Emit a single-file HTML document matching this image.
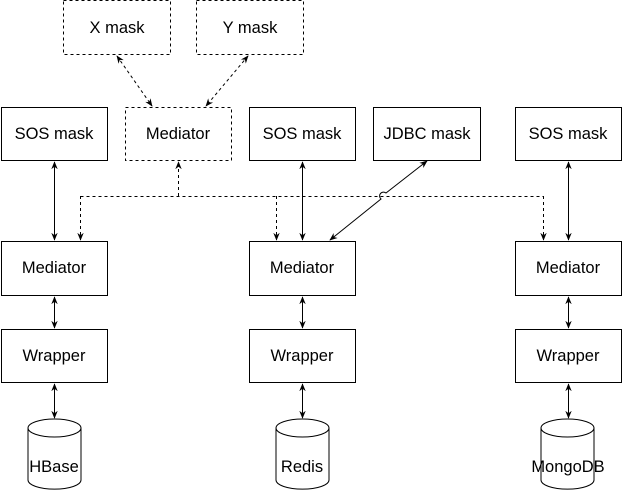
<!DOCTYPE html>
<html><head><style>body{margin:0;background:#fff}svg{display:block}text{font-family:"Liberation Sans",Arial,sans-serif;font-size:16.5px;fill:#000;text-anchor:middle;dominant-baseline:central}</style></head>
<body>
<svg width="623" height="491" viewBox="0 0 623 491" xmlns="http://www.w3.org/2000/svg">
<defs>
<marker id="a" viewBox="0 0 10 10" refX="9" refY="5" markerWidth="8" markerHeight="8" orient="auto-start-reverse"><path d="M0,1 L10,5 L0,9 L3,5 Z" fill="#000"/></marker>
</defs>
<g fill="#fff" stroke="#000" stroke-width="1">
<rect x="63.5" y="0.5" width="107" height="54" stroke-dasharray="3,3"/>
<rect x="196.5" y="0.5" width="107" height="54" stroke-dasharray="3,3"/>
<rect x="1.5" y="107.5" width="106" height="53"/>
<rect x="125.5" y="107.5" width="106" height="53" stroke-dasharray="3,3"/>
<rect x="249.5" y="107.5" width="106" height="53"/>
<rect x="373.5" y="107.5" width="107" height="53"/>
<rect x="515.5" y="107.5" width="106" height="53"/>
<rect x="1.5" y="241.5" width="106" height="54"/>
<rect x="249.5" y="241.5" width="106" height="54"/>
<rect x="515.5" y="241.5" width="106" height="54"/>
<rect x="1.5" y="329.5" width="106" height="53"/>
<rect x="249.5" y="329.5" width="106" height="53"/>
<rect x="515.5" y="329.5" width="106" height="53"/>
</g>
<g fill="#fff" stroke="#000">
<path d="M28,428 v52 a26,9 0 0 0 53,0 v-52"/><ellipse cx="54.5" cy="428" rx="26.5" ry="9"/>
<path d="M276,428 v52 a26,9 0 0 0 53,0 v-52"/><ellipse cx="302.5" cy="428" rx="26.5" ry="9"/>
<path d="M541,428 v52 a26,9 0 0 0 53,0 v-52"/><ellipse cx="567.5" cy="428" rx="26.5" ry="9"/>
</g>
<g stroke="#000" fill="none" stroke-width="1">
<g stroke-dasharray="3,3">
<line x1="117" y1="56" x2="152" y2="106" marker-start="url(#a)" marker-end="url(#a)"/>
<line x1="248" y1="56" x2="206" y2="106" marker-start="url(#a)" marker-end="url(#a)"/>
<path d="M178.5,196 V162" marker-end="url(#a)"/>
<path d="M80.5,196.5 H543.5"/>
<path d="M80.5,196 V240" marker-end="url(#a)"/>
<path d="M276.5,196 V240" marker-end="url(#a)"/>
<path d="M543.5,196 V240" marker-end="url(#a)"/>
</g>
<line x1="54.5" y1="162" x2="54.5" y2="240" marker-start="url(#a)" marker-end="url(#a)"/>
<line x1="302.5" y1="162" x2="302.5" y2="240" marker-start="url(#a)" marker-end="url(#a)"/>
<line x1="568.5" y1="162" x2="568.5" y2="240" marker-start="url(#a)" marker-end="url(#a)"/>
<path d="M427,161 L386,193 A3,3 0 0 0 381,199 L330,240" marker-start="url(#a)" marker-end="url(#a)"/>
<line x1="54.5" y1="297" x2="54.5" y2="328" marker-start="url(#a)" marker-end="url(#a)"/>
<line x1="302.5" y1="297" x2="302.5" y2="328" marker-start="url(#a)" marker-end="url(#a)"/>
<line x1="568.5" y1="297" x2="568.5" y2="328" marker-start="url(#a)" marker-end="url(#a)"/>
<line x1="54.5" y1="384" x2="54.5" y2="418" marker-start="url(#a)" marker-end="url(#a)"/>
<line x1="302.5" y1="384" x2="302.5" y2="418" marker-start="url(#a)" marker-end="url(#a)"/>
<line x1="568.5" y1="384" x2="568.5" y2="418" marker-start="url(#a)" marker-end="url(#a)"/>
</g>
<text x="117" y="28">X mask</text>
<text x="250" y="28">Y mask</text>
<text x="54" y="134">SOS mask</text>
<text x="178" y="134">Mediator</text>
<text x="302" y="134">SOS mask</text>
<text x="427" y="134">JDBC mask</text>
<text x="568" y="134">SOS mask</text>
<text x="54" y="268">Mediator</text>
<text x="302" y="268">Mediator</text>
<text x="568" y="268">Mediator</text>
<text x="54" y="356">Wrapper</text>
<text x="302" y="356">Wrapper</text>
<text x="568" y="356">Wrapper</text>
<text x="54" y="467">HBase</text>
<text x="302" y="467">Redis</text>
<text x="568" y="467">MongoDB</text>
</svg>
</body></html>
